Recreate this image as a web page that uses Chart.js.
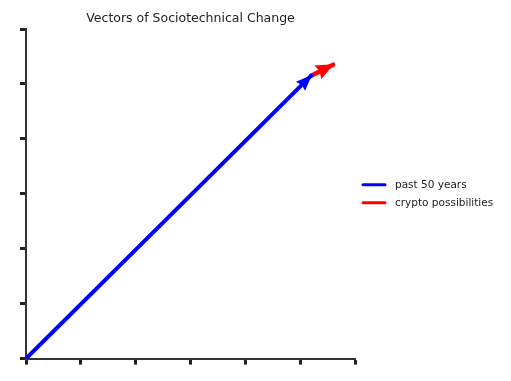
<!DOCTYPE html>
<html>
<head>
<meta charset="utf-8">
<script src="https://cdn.jsdelivr.net/npm/chart.js@4"></script>
<style>
  body { margin: 0; background: #fff; }
</style>
</head>
<body>
<canvas id="vectorChart" width="511" height="381"></canvas>
<script>
// axis ticks (no labels shown, only marks)
const xTicks = [0, 1, 2, 3, 4, 5, 6];
const yTicks = [0, 1, 2, 3, 4, 5, 6];

// series
const seriesNames = ['past 50 years', 'crypto possibilities'];
const pastX = [0, 5.2];
const pastY = [0, 5.15];
const cryptoX = [5.2, 5.6];
const cryptoY = [5.15, 5.35];
const seriesColors = ['#0000ff', '#ff0000'];

const FONT = 'DejaVu Sans';

const toPoints = (xs, ys) => xs.map((x, i) => ({ x: x, y: ys[i] }));

// arrow head at the last point of every dataset
const arrowHeads = {
  id: 'arrowHeads',
  afterDatasetsDraw(chart) {
    const ctx = chart.ctx;
    const xs = chart.scales.x;
    const ys = chart.scales.y;
    chart.data.datasets.forEach((ds, i) => {
      const pts = ds.data;
      const a = pts[pts.length - 2];
      const b = pts[pts.length - 1];
      const x0 = xs.getPixelForValue(a.x), y0 = ys.getPixelForValue(a.y);
      const x1 = xs.getPixelForValue(b.x), y1 = ys.getPixelForValue(b.y);
      const ang = Math.atan2(y1 - y0, x1 - x0);
      const len = i === 0 ? 15 : 17;
      const half = i === 0 ? 6.5 : 7.5;
      ctx.save();
      ctx.translate(x1, y1);
      ctx.rotate(ang);
      ctx.beginPath();
      ctx.moveTo(1, 0);
      ctx.lineTo(-len, -half);
      ctx.lineTo(-len * 0.88, 0);
      ctx.lineTo(-len, half);
      ctx.closePath();
      ctx.fillStyle = ds.borderColor;
      ctx.fill();
      ctx.restore();
    });
  }
};

// legend to the right of the axes (built-in one gets squeezed by the layout)
const sideLegend = {
  id: 'sideLegend',
  afterDraw(chart) {
    const ctx = chart.ctx;
    const area = chart.chartArea;
    const mid = (area.top + area.bottom) / 2;
    const x0 = area.right + 8;
    ctx.save();
    ctx.font = '10.5px "' + FONT + '"';
    ctx.textBaseline = 'middle';
    chart.data.datasets.forEach((ds, i) => {
      const y = mid - 9 + i * 18;
      ctx.strokeStyle = ds.borderColor;
      ctx.lineWidth = 3;
      ctx.lineCap = 'round';
      ctx.beginPath();
      ctx.moveTo(x0, y);
      ctx.lineTo(x0 + 22, y);
      ctx.stroke();
      ctx.fillStyle = '#222';
      ctx.fillText(ds.label, x0 + 32, y);
    });
    ctx.restore();
  }
};

const ctx = document.getElementById('vectorChart').getContext('2d');
new Chart(ctx, {
  type: 'line',
  data: {
    datasets: [
      {
        label: seriesNames[0],
        data: toPoints(pastX, pastY),
        borderColor: seriesColors[0],
        backgroundColor: seriesColors[0],
        borderWidth: 4,
        pointRadius: 0,
        borderCapStyle: 'round'
      },
      {
        label: seriesNames[1],
        data: toPoints(cryptoX, cryptoY),
        borderColor: seriesColors[1],
        backgroundColor: seriesColors[1],
        borderWidth: 4.5,
        pointRadius: 0,
        borderCapStyle: 'round'
      }
    ]
  },
  options: {
    responsive: false,
    animation: false,
    layout: { padding: { left: 20, right: 156, top: 2, bottom: 2 } },
    plugins: {
      title: {
        display: true,
        fullSize: false,
        text: 'Vectors of Sociotechnical Change',
        color: '#222',
        font: { family: FONT, size: 12.5, weight: 'normal' },
        padding: { top: 9, bottom: 3 }
      },
      legend: { display: false },
      tooltip: { enabled: false }
    },
    scales: {
      x: {
        type: 'linear',
        min: xTicks[0],
        max: xTicks[xTicks.length - 1],
        afterBuildTicks: s => { s.ticks = xTicks.map(v => ({ value: v })); },
        border: { color: '#333', width: 2 },
        grid: { drawOnChartArea: false, tickLength: 6, tickWidth: 3, tickColor: '#222' },
        ticks: { callback: () => '', padding: 0 }
      },
      y: {
        type: 'linear',
        min: yTicks[0],
        max: yTicks[yTicks.length - 1],
        afterBuildTicks: s => { s.ticks = yTicks.map(v => ({ value: v })); },
        border: { color: '#333', width: 2 },
        grid: { drawOnChartArea: false, tickLength: 6, tickWidth: 3, tickColor: '#222' },
        ticks: { callback: () => '', padding: 0 }
      }
    }
  },
  plugins: [arrowHeads, sideLegend]
});
</script>
</body>
</html>
